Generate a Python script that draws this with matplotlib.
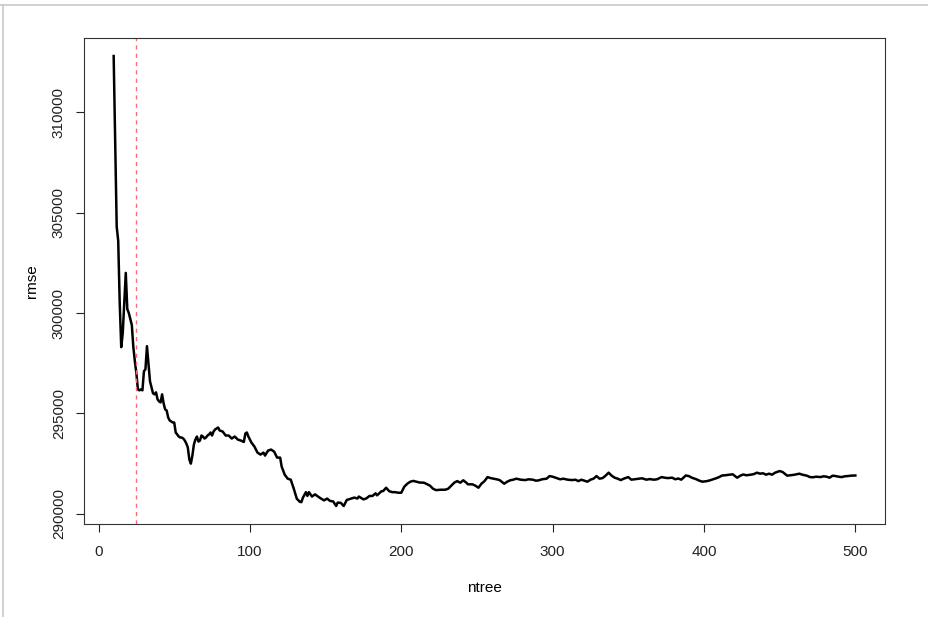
import matplotlib
matplotlib.use("Agg")
import matplotlib.pyplot as plt
from matplotlib.lines import Line2D

ntree = [10, 11, 12, 13, 14, 15, 16, 17, 18, 19, 20, 21, 22, 23, 24, 25, 26, 27, 28, 29,
         30, 31, 32, 33, 34, 35, 36, 37, 38, 39, 40, 41, 42, 43, 44, 45, 46, 47, 48, 49,
         50, 51, 52, 53, 54, 55, 56, 57, 58, 59, 60, 61, 62, 63, 64, 65, 66, 67, 68, 69,
         70, 71, 72, 73, 74, 75, 76, 77, 78, 79, 80, 82, 84, 86, 88, 90, 92, 94, 96, 97,
         98, 99, 101, 103, 105, 107, 109, 110, 112, 114, 116, 118, 120, 121, 123, 125, 127, 129, 131, 133,
         134, 135, 137, 138, 139, 141, 143, 145, 147, 149, 151, 153, 155, 157, 158, 160, 162, 164, 167, 169,
         171, 172, 175, 177, 179, 181, 183, 184, 187, 188, 190, 192, 194, 196, 198, 200, 202, 204, 206, 208,
         210, 212, 215, 217, 219, 221, 223, 226, 229, 231, 233, 235, 237, 239, 241, 243, 244, 247, 249, 251,
         253, 255, 257, 259, 261, 263, 265, 268, 270, 272, 274, 276, 279, 282, 284, 287, 289, 291, 293, 296,
         298, 300, 302, 305, 307, 310, 313, 315, 317, 319, 321, 323, 325, 327, 329, 331, 333, 335, 337, 339,
         341, 343, 345, 347, 350, 352, 354, 357, 359, 362, 364, 367, 369, 372, 374, 376, 379, 381, 383, 385,
         388, 390, 392, 395, 397, 399, 402, 404, 406, 408, 410, 412, 414, 417, 419, 421, 422, 424, 426, 428,
         431, 433, 435, 437, 439, 441, 443, 445, 447, 450, 452, 455, 457, 460, 463, 465, 468, 470, 472, 474,
         477, 479, 481, 483, 485, 487, 489, 491, 493, 495, 497, 500]

rmse = [312800, 308500, 304300, 303600, 300500, 298300, 299000, 300500, 302000, 300200,
        300000, 299700, 299400, 298300, 297600, 297000, 296200, 296150, 296200, 296150,
        297100, 297200, 298350, 297500, 296600, 296300, 296000, 295950, 296050, 295700,
        295600, 295550, 295950, 295500, 295200, 295150, 294800, 294650, 294600, 294550,
        294550, 294050, 293950, 293850, 293800, 293800, 293750, 293650, 293500, 293300,
        292700, 292500, 292900, 293450, 293700, 293850, 293600, 293650, 293900, 293850,
        293750, 293800, 293900, 293950, 294050, 293900, 294100, 294200, 294250, 294300,
        294150, 294100, 293900, 293900, 293750, 293850, 293700, 293650, 293580, 294000,
        294050, 293850, 293550, 293350, 293050, 292950, 293050, 292900, 293150, 293200,
        293100, 292800, 292800, 292350, 291950, 291750, 291700, 291250, 290750, 290600,
        290580, 290800, 291080, 290890, 291080, 290860, 290970, 290860, 290760, 290670,
        290760, 290640, 290620, 290390, 290560, 290550, 290390, 290690, 290760, 290810,
        290760, 290860, 290720, 290770, 290890, 290890, 291020, 290920, 291130, 291130,
        291300, 291130, 291080, 291080, 291050, 291050, 291350, 291500, 291600, 291640,
        291600, 291560, 291550, 291480, 291400, 291250, 291180, 291200, 291200, 291250,
        291400, 291550, 291630, 291550, 291670, 291550, 291470, 291470, 291400, 291300,
        291500, 291630, 291830, 291780, 291750, 291720, 291680, 291500, 291600, 291670,
        291700, 291750, 291700, 291680, 291720, 291700, 291650, 291670, 291720, 291750,
        291880, 291850, 291800, 291720, 291750, 291700, 291680, 291700, 291630, 291700,
        291650, 291600, 291700, 291750, 291880, 291750, 291780, 291900, 292050, 291900,
        291800, 291750, 291680, 291750, 291830, 291700, 291720, 291750, 291770, 291700,
        291730, 291700, 291720, 291830, 291800, 291780, 291800, 291720, 291760, 291700,
        291910, 291880, 291800, 291720, 291650, 291600, 291630, 291670, 291720, 291770,
        291830, 291910, 291920, 291950, 291970, 291850, 291800, 291900, 291960, 291920,
        291950, 291980, 292050, 292000, 292020, 291950, 292000, 291950, 292050, 292130,
        292080, 291900, 291920, 291950, 292000, 291950, 291900, 291830, 291820, 291850,
        291830, 291870, 291850, 291800, 291900, 291880, 291850, 291830, 291870, 291880,
        291900, 291910]

best_ntree = 25
x_ticks = [0, 100, 200, 300, 400, 500]
y_ticks = [290000, 295000, 300000, 305000, 310000]
x_label = "ntree"
y_label = "rmse"

plt.rcParams['font.family'] = ['Liberation Sans', 'DejaVu Sans']

fig = plt.figure(figsize=(9.29, 6.17), dpi=100)
ax = fig.add_axes([84 / 929, 93 / 617, (885 - 84) / 929, (524 - 38) / 617])

ax.plot(ntree, rmse, color='black', linewidth=1.8, solid_joinstyle='round')
ax.axvline(best_ntree, color='#ff6b6b', linewidth=1.0, linestyle=(0, (3, 3)))

xmin, xmax = min(ntree), max(ntree)
dx = (xmax - xmin) * 0.04
ax.set_xlim(xmin - dx, xmax + dx)
ymin, ymax = min(rmse), max(rmse)
dy = (ymax - ymin) * 0.04
ax.set_ylim(ymin - dy, ymax + dy)

ax.set_xticks(x_ticks)
ax.set_xticklabels([str(v) for v in x_ticks])
ax.set_yticks(y_ticks)
ax.set_yticklabels([str(v) for v in y_ticks], rotation=90, va='center')
ax.tick_params(axis='both', direction='out', length=6, width=0.8, labelsize=11, colors='#222222')
ax.tick_params(axis='x', pad=9)
ax.tick_params(axis='y', pad=7)
for s in ax.spines.values():
    s.set_linewidth(0.8)
    s.set_color('#333333')

ax.set_xlabel(x_label, fontsize=11, labelpad=16)
ax.set_ylabel(y_label, fontsize=11, labelpad=9)

fig.add_artist(Line2D([0, 1], [1 - 4.5 / 617, 1 - 4.5 / 617], color='#c8c8c8', linewidth=1.2, transform=fig.transFigure))
fig.add_artist(Line2D([2.5 / 929, 2.5 / 929], [0, 1 - 4.5 / 617], color='#c8c8c8', linewidth=1.2, transform=fig.transFigure))

fig.savefig("out.png", dpi=100)
